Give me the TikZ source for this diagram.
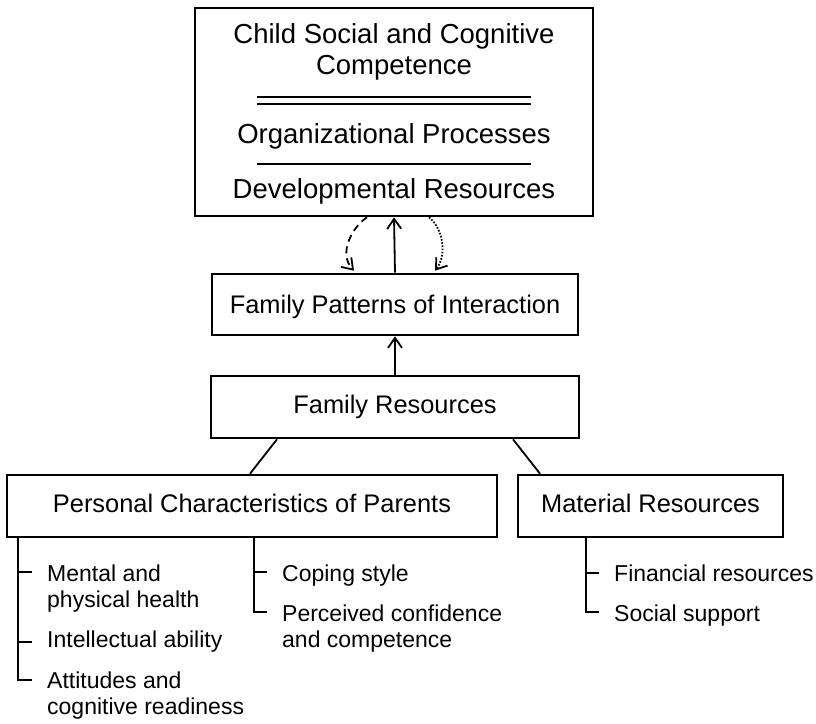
\documentclass[tikz,border=0pt]{standalone}
\usepackage{fontspec}
\setmainfont{Liberation Sans}
\usetikzlibrary{arrows.meta,calc}
\begin{document}
\begin{tikzpicture}[x=1pt,y=-1pt,
  box/.style={draw,line width=2.6pt,inner sep=0pt,anchor=center},
  big/.style={font=\fontsize{27.5}{30}\selectfont,anchor=base,inner sep=0pt},
  mid/.style={font=\fontsize{25.4}{28}\selectfont,anchor=base,inner sep=0pt},
  item/.style={font=\fontsize{23}{26}\selectfont,anchor=base west,inner sep=0pt,align=left},
  rule/.style={line width=1.4pt},
  conn/.style={line width=1.8pt},
  tree/.style={line width=1.8pt},
  tip/.style={-{Straight Barb[length=10pt,width=14pt,line width=1.8pt]}},
  arr/.style={line width=1.8pt,tip}]
\useasboundingbox (0,0) rectangle (816,723);

% boxes
\node[box,minimum width=398pt,minimum height=208pt] (top) at (394,112) {};
\node[box,minimum width=366pt,minimum height=61pt] (fpi) at (395,304.5) {};
\node[box,minimum width=368pt,minimum height=62pt] (fr) at (395,407) {};
\node[box,minimum width=490pt,minimum height=62pt] (pcp) at (252,506) {};
\node[box,minimum width=265pt,minimum height=62pt] (mr) at (650.5,506) {};

% texts in boxes
\node[big] (t1) at (394,43) {Child Social and Cognitive};
\node[big] (t2) at (394,74) {Competence};
\node[big] (t3) at (394,143) {Organizational Processes};
\node[big] (t4) at (394,198) {Developmental Resources};
\node[mid] (fpit) at (395,313) {Family Patterns of Interaction};
\node[mid] (frt) at (395,413) {Family Resources};
\node[mid] (pcpt) at (252,512) {Personal Characteristics of Parents};
\node[mid] (mrt) at (650.5,512) {Material Resources};

% rules in top box
\draw[rule] ($(top.center)+(-137,-15)$) -- ($(top.center)+(137,-15)$);
\draw[rule] ($(top.center)+(-137,-8)$) -- ($(top.center)+(137,-8)$);
\draw[rule] ($(top.center)+(-137,52)$) -- ($(top.center)+(137,52)$);

% arrows between top and fpi
\draw[arr] (fpi.north) -- (top.south);
\draw[arr,dash pattern=on 7pt off 5pt] ($(top.south)+(-27,0)$) .. controls ($(top.south)+(-42,10)$) and ($(top.south)+(-56,36)$) .. ($(fpi.north)+(-41,-2)$);
\draw[arr,dash pattern=on 1.6pt off 1.6pt] ($(top.south)+(35,0)$) .. controls ($(top.south)+(48,10)$) and ($(top.south)+(54,36)$) .. ($(fpi.north)+(40,-2)$);
\draw[arr] (fr.north) -- (fpi.south);

% fr to children
\draw[conn] ($(fr.south)+(-118,0)$) -- ($(pcp.north)+(-2,0)$);
\draw[conn] ($(fr.south)+(118,0)$) -- ($(mr.north)+(-110.5,0)$);

% list items (base = baseline of last line)
\node[item] (a1) at (47,607) {Mental and\\physical health};
\node[item] (a2) at (47,647) {Intellectual ability};
\node[item] (a3) at (47,714) {Attitudes and\\cognitive readiness};
\node[item] (b1) at (282,581) {Coping style};
\node[item] (b2) at (282,647) {Perceived confidence\\and competence};
\node[item] (c1) at (614,581) {Financial resources};
\node[item] (c2) at (614,621) {Social support};

% tree coordinates
\coordinate (la1) at (32,572);
\coordinate (la2) at (32,642);
\coordinate (la3) at (32,680);
\coordinate (lb1) at (267,572);
\coordinate (lb2) at (267,612);
\coordinate (lc1) at (599,573);
\coordinate (lc2) at (599,612);

\draw[tree] ($(pcp.south west)+(12,0)$) |- (la3);
\draw[tree] (la1) -- ++(-13,0);
\draw[tree] (la2) -- ++(-13,0);
\draw[tree] ($(pcp.south)+(2,0)$) |- (lb2);
\draw[tree] (lb1) -- ++(-13,0);
\draw[tree] ($(mr.south)+(-64.5,0)$) |- (lc2);
\draw[tree] (lc1) -- ++(-13,0);
\end{tikzpicture}
\end{document}
